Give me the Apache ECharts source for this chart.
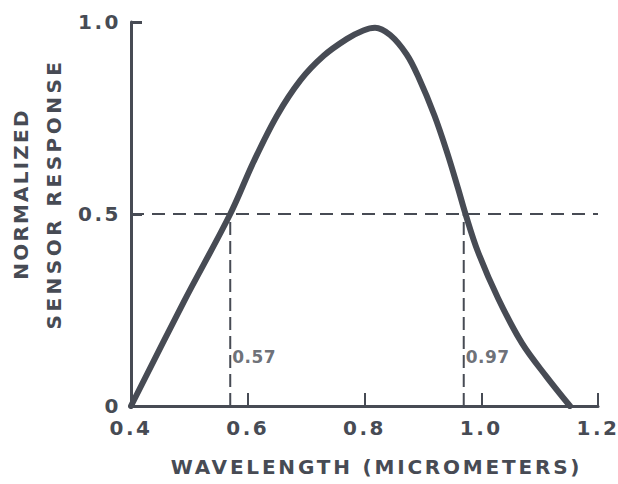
<!DOCTYPE html>
<html>
<head>
<meta charset="utf-8">
<script src="https://cdn.jsdelivr.net/npm/echarts@6/dist/echarts.min.js"></script>
<style>
  html, body { margin: 0; padding: 0; background: #fff; }
  #chart { width: 618px; height: 484px; }
</style>
</head>
<body>
<div id="chart"></div>
<script>
// Data
const wavelength = [0.400, 0.490, 0.570, 0.610, 0.650, 0.690, 0.730, 0.770, 0.798, 0.818, 0.844, 0.872, 0.892, 0.920, 0.942, 0.960, 0.973, 0.994, 1.029, 1.070, 1.112, 1.152];
const response   = [0.000, 0.270, 0.500, 0.636, 0.756, 0.848, 0.912, 0.956, 0.978, 0.985, 0.966, 0.916, 0.858, 0.756, 0.658, 0.568, 0.500, 0.403, 0.280, 0.163, 0.076, 0.000];
const halfLevel = 0.5;
const halfPoints = [0.57, 0.97];
const xTicks = [0.4, 0.6, 0.8, 1.0, 1.2];
const yTicks = [0, 0.5, 1.0];
const labelHeight = 0.128;
const xName = 'WAVELENGTH (MICROMETERS)';
const yNameLines = ['NORMALIZED', 'SENSOR RESPONSE'];

const ink = '#474b54';
const font = 'DejaVu Sans';

const curve = wavelength.map((x, i) => [x, response[i]]);

const series = [
  {
    type: 'line',
    data: [[xTicks[0], halfLevel], [xTicks[xTicks.length - 1], halfLevel]],
    symbol: 'none',
    lineStyle: { color: ink, width: 2, type: [13, 8] },
    z: 2
  }
];
halfPoints.forEach(p => {
  series.push({
    type: 'line',
    data: [[p, 0], [p, halfLevel]],
    symbol: 'none',
    lineStyle: { color: ink, width: 2, type: [13, 6] },
    z: 2
  });
});
series.push({
  type: 'scatter',
  data: halfPoints.map(p => [p, labelHeight]),
  symbolSize: 0,
  label: {
    show: true,
    position: 'right',
    distance: 2,
    formatter: p => p.value[0].toFixed(2),
    color: ink,
    fontFamily: font,
    fontWeight: 'bold',
    fontSize: 17
  },
  z: 4
});
series.push({
  type: 'line',
  data: curve,
  smooth: 0.35,
  symbol: 'none',
  lineStyle: { color: ink, width: 6, cap: 'round', join: 'round' },
  z: 5
});

const chart = echarts.init(document.getElementById('chart'), null, { renderer: 'svg' });
chart.setOption({
  animation: false,
  backgroundColor: '#ffffff',
  grid: { left: 131, right: 20, top: 22, bottom: 78, containLabel: false, outerBoundsMode: 'none' },
  xAxis: {
    type: 'value',
    min: xTicks[0],
    max: xTicks[xTicks.length - 1],
    interval: 0.2,
    name: xName,
    nameLocation: 'middle',
    nameGap: 51,
    nameTextStyle: { color: ink, fontFamily: font, fontWeight: 'bold', fontSize: 20, padding: [0, 0, 0, 24] },
    axisLine: { show: true, lineStyle: { color: ink, width: 3 } },
    axisTick: { show: true, inside: true, length: 13, lineStyle: { color: ink, width: 2 } },
    axisLabel: {
      margin: 12,
      color: ink, fontFamily: font, fontWeight: 'bold', fontSize: 20,
      formatter: v => v.toFixed(1)
    },
    splitLine: { show: false }
  },
  yAxis: {
    type: 'value',
    min: yTicks[0],
    max: yTicks[yTicks.length - 1],
    interval: 0.5,
    name: yNameLines.join('\n'),
    nameLocation: 'middle',
    nameGap: 61,
    nameRotate: 90,
    nameTextStyle: { color: ink, fontFamily: font, fontWeight: 'bold', fontSize: 20, lineHeight: 33, padding: [0, 0, 0, 40] },
    axisLine: { show: true, lineStyle: { color: ink, width: 3 } },
    axisTick: { show: true, inside: true, length: 11, lineStyle: { color: ink, width: 3 } },
    axisLabel: {
      margin: 10,
      color: ink, fontFamily: font, fontWeight: 'bold', fontSize: 20,
      formatter: v => v === 0 ? '0' : v.toFixed(1)
    },
    splitLine: { show: false }
  },
  series: series
});

// letter spacing of the printed lettering (SVG text)
function spacingFor(s) {
  if (s === xName) return 2.8;
  if (s === yNameLines[0]) return 2.2;
  if (s === yNameLines[1]) return 3.5;
  if (/^0\.\d\d$/.test(s)) return 0.5;
  return 2.5;
}
function applySpacing() {
  document.querySelectorAll('#chart svg text, #chart svg tspan').forEach(t => {
    const s = t.textContent.trim();
    if (s) t.style.letterSpacing = spacingFor(s) + 'px';
  });
}
applySpacing();
chart.on('finished', applySpacing);
setTimeout(applySpacing, 50);
</script>
</body>
</html>
